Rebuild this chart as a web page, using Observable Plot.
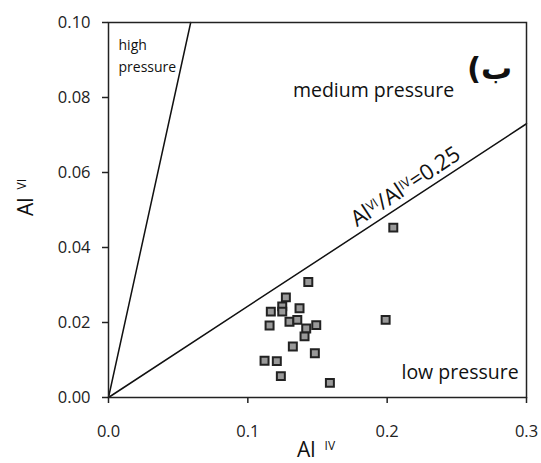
<!DOCTYPE html>
<html>
<head>
<meta charset="utf-8">
<script src="https://cdn.jsdelivr.net/npm/d3@7"></script>
<script src="https://cdn.jsdelivr.net/npm/@observablehq/plot@0.6"></script>
<style>
  html, body { margin: 0; padding: 0; background: #fff; }
  svg { display: block; }
</style>
</head>
<body>
<div id="chart"></div>
<script>
// Sample points (Al IV, Al VI)
const alIV = [0.1434, 0.1273, 0.1247, 0.1247, 0.1165, 0.1371, 0.1299, 0.1355, 0.1156, 0.1491,
              0.1419, 0.1407, 0.1323, 0.1481, 0.1120, 0.1208, 0.1237, 0.1589, 0.2044, 0.1989];
const alVI = [0.0308, 0.0267, 0.0243, 0.0229, 0.0229, 0.0238, 0.0202, 0.0207, 0.0192, 0.0193,
              0.0184, 0.0163, 0.0136, 0.0118, 0.0098, 0.0097, 0.0057, 0.0039, 0.0453, 0.0207];

// Boundary lines
const highLineX = [0, 0.059];
const highLineY = [0, 0.1];
const ratioLineX = [0, 0.3];
const ratioLineY = [0, 0.073];

const xTicks = [0, 0.1, 0.2, 0.3];
const yTicks = [0, 0.02, 0.04, 0.06, 0.08, 0.10];

// Region labels
const regionLabels = [
  {x: 0.0072, y: 0.0938, text: "high", size: 14, anchor: "start"},
  {x: 0.0072, y: 0.0879, text: "pressure", size: 14, anchor: "start"},
  {x: 0.1902, y: 0.0818, text: "medium pressure", size: 19.5, anchor: "middle"},
  {x: 0.2523, y: 0.0066, text: "low pressure", size: 19.5, anchor: "middle"}
];

const points = alIV.map((v, i) => ({x: v, y: alVI[i]}));
const highLine = highLineX.map((v, i) => ({x: v, y: highLineY[i]}));
const ratioLine = ratioLineX.map((v, i) => ({x: v, y: ratioLineY[i]}));

const font = "'Open Sans', sans-serif";

const plot = Plot.plot({
  width: 541,
  height: 463,
  marginLeft: 108,
  marginRight: 15,
  marginTop: 22,
  marginBottom: 66,
  style: {fontFamily: font, fontSize: "16.5px", color: "#222", background: "#fff"},
  x: {domain: [0, 0.3], ticks: xTicks, tickFormat: d3.format(".1f"), tickSize: 6, tickPadding: 22, label: null},
  y: {domain: [0, 0.1], ticks: yTicks, tickFormat: d3.format(".2f"), tickSize: 6, tickPadding: 12, label: null},
  marks: [
    Plot.line(highLine, {x: "x", y: "y", stroke: "#111", strokeWidth: 1.5}),
    Plot.line(ratioLine, {x: "x", y: "y", stroke: "#111", strokeWidth: 1.5}),
    Plot.dot(points, {x: "x", y: "y", symbol: "square", r: 4.5, fill: "#999", stroke: "#222", strokeWidth: 2}),
    ...regionLabels.map(d => Plot.text([d], {x: "x", y: "y", text: "text", fontSize: d.size, textAnchor: d.anchor, fill: "#111"})),
    Plot.text([{x: 0.2735, y: 0.0876, t: "PANEL_B"}], {x: "x", y: "y", text: "t", fontSize: 31, fontWeight: "bold", fill: "#111"}),
    Plot.text([{x: 0.2132, y: 0.0562, t: "RATIO_LABEL"}], {x: "x", y: "y", text: "t", fontSize: 22, rotate: -33.5, fill: "#111"}),
    Plot.frame({stroke: "#222", strokeWidth: 1.5})
  ]
});

const svg = d3.select(plot);
svg.selectAll("g[aria-label='x-axis tick'] path, g[aria-label='y-axis tick'] path").attr("stroke", "#222").attr("stroke-width", 1.5);

// Panel label (Persian "ب)")
svg.selectAll("text").filter(function() { return this.textContent === "PANEL_B"; })
  .text("ب)")
  .attr("direction", "rtl")
  .attr("unicode-bidi", "embed")
  .attr("font-family", "'DejaVu Sans', sans-serif");

// Ratio label with superscripts
svg.selectAll("text").filter(function() { return this.textContent === "RATIO_LABEL"; })
  .each(function() {
    const t = d3.select(this);
    t.text(null);
    const parts = [["Al", false], ["VI", true], ["/Al", false], ["IV", true], ["=0.25", false]];
    parts.forEach(([s, sup]) => {
      t.append("tspan").text(s)
        .attr("font-size", sup ? "13px" : null)
        .attr("baseline-shift", sup ? "45%" : null);
    });
  });

// Axis titles
const xt = svg.append("text")
  .attr("x", 297).attr("y", 457)
  .attr("text-anchor", "start")
  .attr("font-family", font).attr("font-size", 21).attr("fill", "#111");
xt.append("tspan").text("Al");
xt.append("tspan").text("IV").attr("dx", 9).attr("font-size", 12).attr("baseline-shift", "60%");

const yt = svg.append("text")
  .attr("transform", "translate(33,216) rotate(-90)")
  .attr("text-anchor", "start")
  .attr("font-family", font).attr("font-size", 21).attr("fill", "#111");
yt.append("tspan").text("Al");
yt.append("tspan").text("VI").attr("dx", 8).attr("font-size", 12).attr("baseline-shift", "60%");

document.getElementById("chart").appendChild(plot);
</script>
</body>
</html>
